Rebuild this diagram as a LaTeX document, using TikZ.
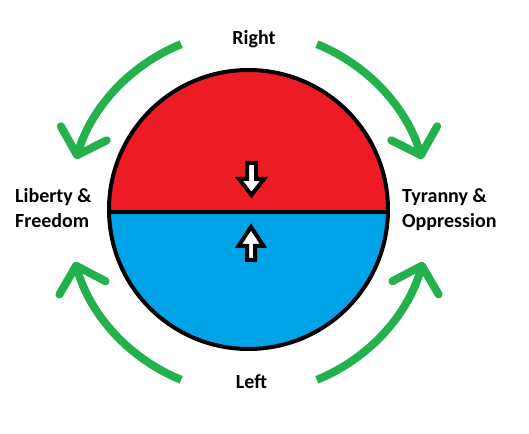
\documentclass[tikz,border=0pt]{standalone}
\usepackage{fontspec}
\setmainfont{Carlito}
\usetikzlibrary{arrows.meta}
\definecolor{pred}{HTML}{ED1C24}
\definecolor{pblue}{HTML}{00A2E8}
\definecolor{pgreen}{HTML}{22B14C}
\tikzset{
  cyc/.style={draw=pgreen, line width=8pt, -{Straight Barb[length=23pt, width=48pt, round]}},
  lbl/.style={font=\fontsize{20}{25}\selectfont\bfseries, inner sep=0pt},
  wa/.style={draw=black, fill=white, line width=4pt, line join=miter}
}
\begin{document}
\begin{tikzpicture}[x=1pt,y=1pt]
\useasboundingbox (0,0) rectangle (529,433);
\fill[white] (0,0) rectangle (529,433);
\coordinate (O) at (248.5,223.5);
\coordinate (A) at (249,221);
% disc
\fill[pblue] (O) circle (139.5pt);
\begin{scope}
  \clip (0,221) rectangle (529,433);
  \fill[pred] (O) circle (139.5pt);
\end{scope}
\draw[line width=4pt] (O) circle (139.5pt);
\coordinate (ml) at (108,221);
\coordinate (mr) at (389,221);
\draw[line width=4pt] (ml) -- (mr);
% white arrows
\draw[wa] (247,270) -- (256,270) -- (256,254) -- (264,254) -- (251.5,238) -- (239,254) -- (247,254) -- cycle;
\draw[wa] (251,206) -- (263.5,187) -- (255,187) -- (255,173) -- (247,173) -- (247,187) -- (238.5,187) -- cycle;
% green arcs
\draw[cyc] ([shift={(112:181pt)}]A) arc (112:163:181pt);
\draw[cyc] ([shift={(68:181pt)}]A) arc (68:17:181pt);
\draw[cyc] ([shift={(248:181pt)}]A) arc (248:196:181pt);
\draw[cyc] ([shift={(-68:181pt)}]A) arc (-68:-16:181pt);
% labels
\node[lbl, anchor=base] (right) at (254,388) {Right};
\node[lbl, anchor=base] (left) at (251.5,44.7) {Left};
\node[lbl, anchor=base west, align=left] (lib) at (15,205) {Liberty \&\\Freedom};
\node[lbl, anchor=base west, align=left] (tyr) at (402,205) {Tyranny \&\\Oppression};
\end{tikzpicture}
\end{document}
